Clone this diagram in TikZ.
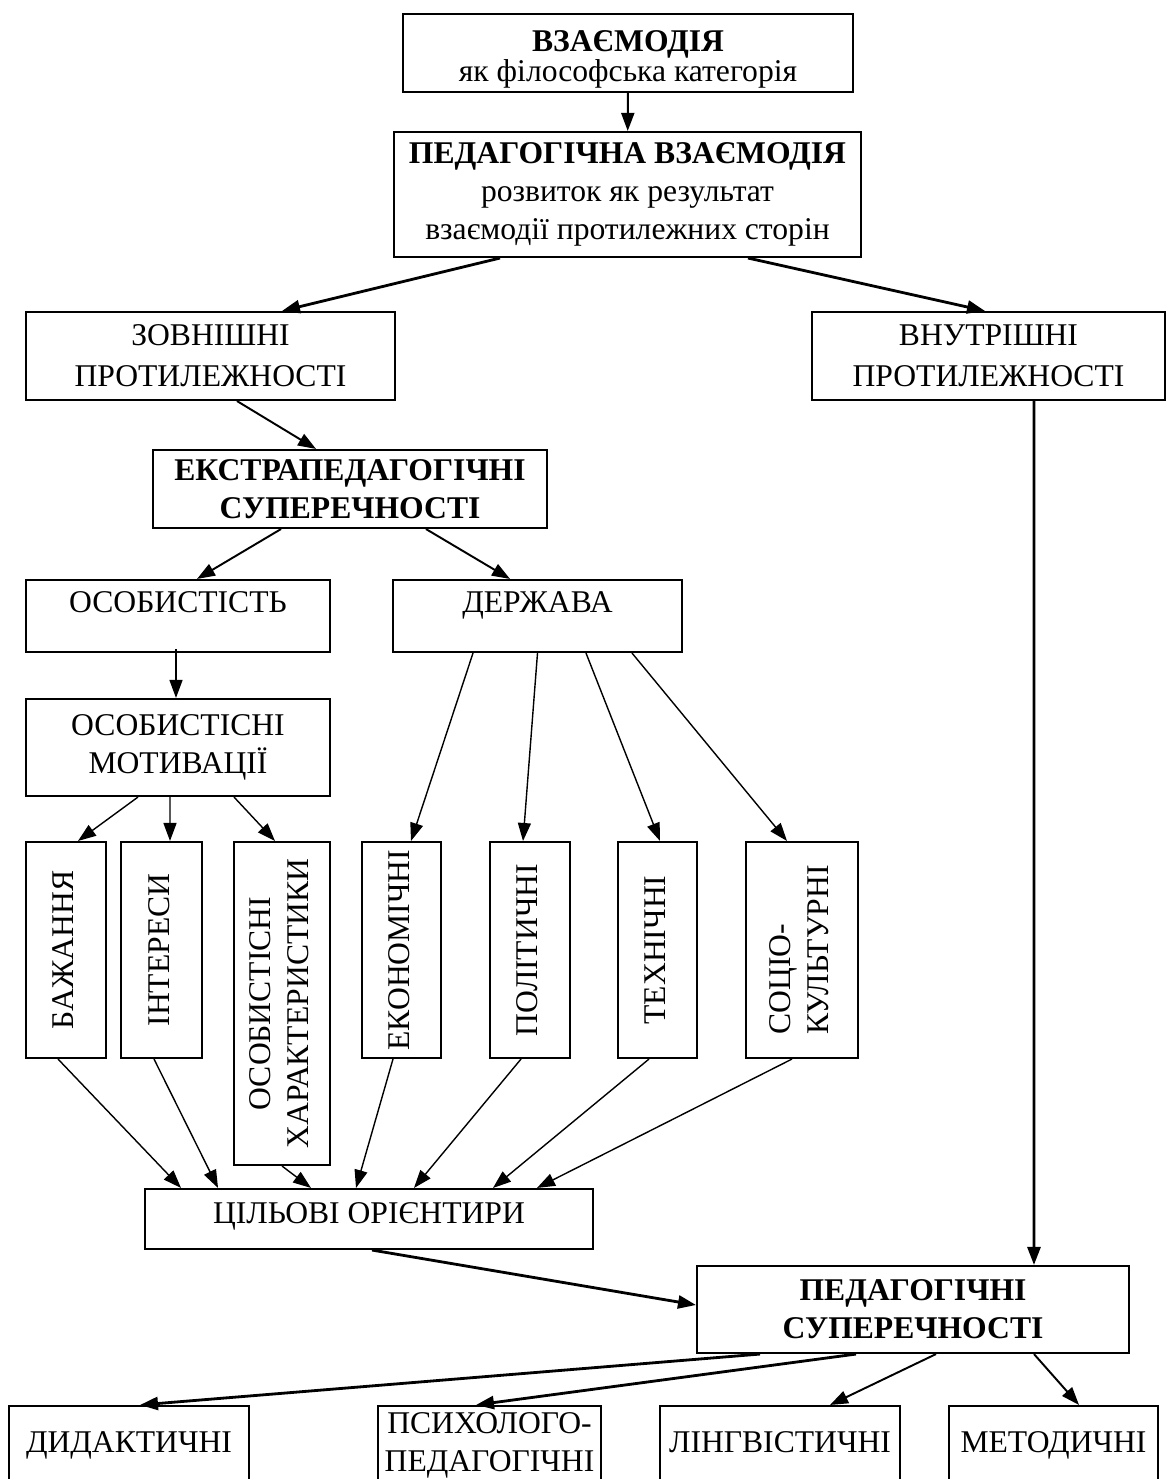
\documentclass[tikz,border=0pt]{standalone}
\usepackage{fontspec}
\setmainfont{Liberation Serif}
\usepackage{graphicx}
\usetikzlibrary{arrows.meta}

\begin{document}
\begin{tikzpicture}[x=0.02cm,y=-0.02cm,>={Triangle[length=3.6mm,width=2.6mm]}]
  \tikzstyle{term}=[draw,line width=1.2pt,align=center,inner sep=1pt,font=\fontsize{18}{21.5}\selectfont]
  \tikzstyle{head}=[term,font=\fontsize{18}{21.5}\selectfont\bfseries]
  \tikzstyle{lnk}=[->,draw,line width=0.8pt]
  \tikzstyle{mid}=[->,draw,line width=1.1pt]
  \tikzstyle{fat}=[->,draw,line width=1.6pt]
  \def\vt#1{\rotatebox{90}{\begin{tabular}{@{}c@{}}#1\end{tabular}}}
  \def\vl#1{\rotatebox{90}{\begin{tabular}{@{}l@{}}#1\end{tabular}}}

  \clip (0,0) rectangle (1167,1479);

  \node [term,minimum width=9cm,minimum height=1.56cm] (vzaem) at (628,53)
    {\rule{0pt}{0.68cm}\textbf{ВЗАЄМОДІЯ}\\[-4pt]як філософська категорія} ;
  \node [term,minimum width=9.34cm,minimum height=2.5cm] (pedvz) at (627.5,194.5)
    {\textbf{ПЕДАГОГІЧНА ВЗАЄМОДІЯ}\\розвиток як результат\\взаємодії протилежних сторін} ;
  \path (vzaem) edge [mid] (pedvz) ;

  \node [term,minimum width=7.38cm,minimum height=1.76cm] (zovn) at (210.5,356) {ЗОВНІШНІ\\[2pt]ПРОТИЛЕЖНОСТІ} ;
  \node [term,minimum width=7.06cm,minimum height=1.76cm] (vnutr) at (988.5,356) {ВНУТРІШНІ\\[2pt]ПРОТИЛЕЖНОСТІ} ;
  \path ([xshift=-2.55cm]pedvz.south) edge [fat] ([xshift=1.43cm]zovn.north) ;
  \path ([xshift=2.41cm]pedvz.south) edge [fat] ([xshift=-0.07cm]vnutr.north) ;

  \node [head,minimum width=7.88cm,minimum height=1.56cm] (ekstra) at (350,489) {ЕКСТРАПЕДАГОГІЧНІ\\СУПЕРЕЧНОСТІ} ;
  \path ([xshift=0.53cm]zovn.south) edge [mid] ([xshift=-0.68cm]ekstra.north) ;

  \node [term,text depth=0.55cm,minimum width=6.08cm,minimum height=1.44cm] (osob) at (178,616) {ОСОБИСТІСТЬ} ;
  \node [term,text depth=0.55cm,minimum width=5.78cm,minimum height=1.44cm] (derzh) at (537.5,616) {ДЕРЖАВА} ;
  \path ([xshift=-1.38cm]ekstra.south) edge [mid] ([xshift=0.38cm]osob.north) ;
  \path ([xshift=1.52cm]ekstra.south) edge [mid] ([xshift=-0.55cm]derzh.north) ;

  \node [term,minimum width=6.08cm,minimum height=1.94cm] (motiv) at (178,747.5) {ОСОБИСТІСНІ\\МОТИВАЦІЇ} ;
  \path ([xshift=-0.04cm,yshift=0.08cm]osob.south) edge [lnk] ([xshift=-0.04cm]motiv.north) ;

  % vertical boxes
  \node [term,minimum width=1.6cm,minimum height=4.32cm] (bazh) at (66,950) {\vt{БАЖАННЯ}} ;
  \node [term,minimum width=1.62cm,minimum height=4.32cm] (inter) at (161.5,950) {\vt{ІНТЕРЕСИ}} ;
  \node [term,minimum width=1.92cm,minimum height=6.46cm] (khar) at (282,1003.5) {\vt{ОСОБИСТІСНІ\\ХАРАКТЕРИСТИКИ}} ;
  \node [term,minimum width=1.58cm,minimum height=4.32cm] (ekon) at (401.5,950) {\vt{ЕКОНОМІЧНІ}} ;
  \node [term,minimum width=1.6cm,minimum height=4.32cm] (polit) at (530,950) {\vt{ПОЛІТИЧНІ}} ;
  \node [term,minimum width=1.58cm,minimum height=4.32cm] (tekhn) at (657.5,950) {\vt{ТЕХНІЧНІ}} ;
  \node [term,minimum width=2.24cm,minimum height=4.32cm] (sotsio) at (802,950) {\vl{СОЦІО-\\КУЛЬТУРНІ}} ;

  \path ([xshift=-0.8cm]motiv.south) edge [lnk] ([xshift=0.24cm]bazh.north) ;
  \path ([xshift=-0.16cm]motiv.south) edge [lnk] ([xshift=0.17cm]inter.north) ;
  \path ([xshift=1.12cm]motiv.south) edge [lnk] ([xshift=-0.14cm]khar.north) ;
  \path ([xshift=-1.29cm]derzh.south) edge [lnk] ([xshift=0.19cm]ekon.north) ;
  \path (derzh.south) edge [lnk] ([xshift=-0.14cm]polit.north) ;
  \path ([xshift=0.97cm]derzh.south) edge [lnk] ([xshift=0.05cm]tekhn.north) ;
  \path ([xshift=1.89cm]derzh.south) edge [lnk] ([xshift=-0.3cm]sotsio.north) ;

  \node [term,text depth=0.25cm,minimum width=8.96cm,minimum height=1.2cm] (tsil) at (369,1219) {ЦІЛЬОВІ ОРІЄНТИРИ} ;
  \path ([xshift=-0.16cm]bazh.south) edge [lnk] ([xshift=-3.76cm]tsil.north) ;
  \path ([xshift=-0.15cm]inter.south) edge [lnk] ([xshift=-3.02cm]tsil.north) ;
  \path (khar.south) edge [lnk] ([xshift=-1.16cm]tsil.north) ;
  \path ([xshift=-0.17cm]ekon.south) edge [lnk] ([xshift=-0.26cm]tsil.north) ;
  \path ([xshift=-0.18cm]polit.south) edge [lnk] ([xshift=0.9cm]tsil.north) ;
  \path ([xshift=-0.17cm]tekhn.south) edge [lnk] ([xshift=2.48cm]tsil.north) ;
  \path ([xshift=-0.2cm]sotsio.south) edge [lnk] ([xshift=3.36cm]tsil.north) ;

  \node [head,minimum width=8.64cm,minimum height=1.74cm] (pedsup) at (913,1309.5) {ПЕДАГОГІЧНІ\\СУПЕРЕЧНОСТІ} ;
  \path ([xshift=0.06cm]tsil.south) edge [fat] ([yshift=0.09cm]pedsup.west) ;
  \path ([xshift=0.91cm]vnutr.south) edge [fat] ([xshift=2.42cm]pedsup.north) ;

  \node [term,minimum width=4.8cm,minimum height=1.56cm] (didakt) at (129,1445) {ДИДАКТИЧНІ} ;
  \node [term,minimum width=4.46cm,minimum height=1.56cm] (psykh) at (489.5,1445) {ПСИХОЛОГО-\\ПЕДАГОГІЧНІ} ;
  \node [term,text depth=0.1cm,minimum width=4.8cm,minimum height=1.56cm] (lingv) at (780,1445) {ЛІНГВІСТИЧНІ} ;
  \node [term,minimum width=4.18cm,minimum height=1.56cm] (metod) at (1053.5,1445) {МЕТОДИЧНІ} ;
  \path ([xshift=-3.06cm]pedsup.south) edge [fat] ([xshift=0.22cm]didakt.north) ;
  \path ([xshift=-1.14cm]pedsup.south) edge [fat] ([xshift=-0.27cm]psykh.north) ;
  \path ([xshift=0.46cm]pedsup.south) edge [mid] ([xshift=1.0cm]lingv.north) ;
  \path ([xshift=2.42cm]pedsup.south) edge [mid] ([xshift=0.51cm]metod.north) ;

\end{tikzpicture}
\end{document}
